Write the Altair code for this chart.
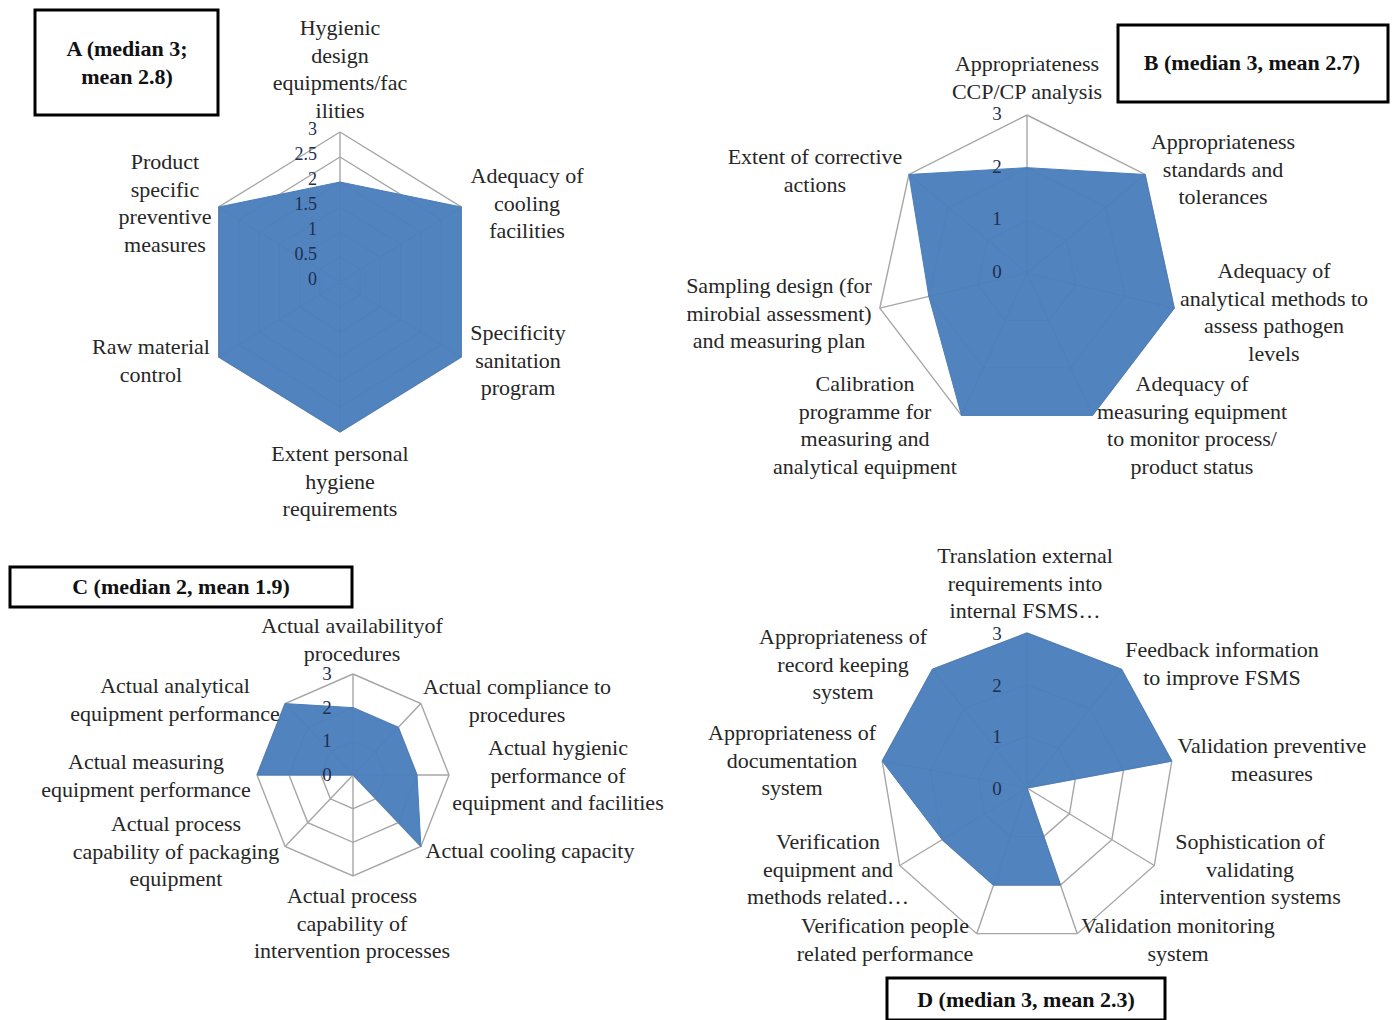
import altair as alt
import pandas as pd

# ---------------- data ----------------
A_CATS = ["Hygienic\ndesign\nequipments/fac\nilities", "Adequacy of\ncooling\nfacilities",
          "Specificity\nsanitation\nprogram", "Extent personal\nhygiene\nrequirements",
          "Raw material\ncontrol", "Product\nspecific\npreventive\nmeasures"]
A_VALS = [2, 3, 3, 3, 3, 3]
A_TICKS = [0, 0.5, 1, 1.5, 2, 2.5, 3]
A_TITLE = "A (median 3;\nmean 2.8)"

B_CATS = ["Appropriateness\nCCP/CP analysis", "Appropriateness\nstandards and\ntolerances",
          "Adequacy of\nanalytical methods to\nassess pathogen\nlevels",
          "Adequacy of\nmeasuring equipment\nto monitor process/\nproduct status",
          "Calibration\nprogramme for\nmeasuring and\nanalytical equipment",
          "Sampling design (for\nmirobial assessment)\nand measuring plan",
          "Extent of corrective\nactions"]
B_VALS = [2, 3, 3, 3, 3, 2, 3]
B_TICKS = [0, 1, 2, 3]
B_TITLE = "B (median 3, mean 2.7)"

C_CATS = ["Actual availabilityof\nprocedures", "Actual compliance to\nprocedures",
          "Actual hygienic\nperformance of\nequipment and facilities", "Actual cooling capacity",
          "Actual process\ncapability of\nintervention processes",
          "Actual process\ncapability of packaging\nequipment",
          "Actual measuring\nequipment performance", "Actual analytical\nequipment performance"]
C_VALS = [2, 2, 2, 3, 0, 0, 3, 3]
C_TICKS = [0, 1, 2, 3]
C_TITLE = "C (median 2, mean 1.9)"

D_CATS = ["Translation external\nrequirements into\ninternal FSMS…", "Feedback information\nto improve FSMS",
          "Validation preventive\nmeasures", "Sophistication of\nvalidating\nintervention systems",
          "Validation monitoring\nsystem", "Verification people\nrelated performance",
          "Verification\nequipment and\nmethods related…", "Appropriateness of\ndocumentation\nsystem",
          "Appropriateness of\nrecord keeping\nsystem"]
D_VALS = [3, 3, 3, 0, 2, 2, 2, 3, 3]
D_TICKS = [0, 1, 2, 3]
D_TITLE = "D (median 3, mean 2.3)"

# ---------------- layout (pixels; label positions = centre of first line) ----------------
W, H = 1394, 1020
LAYOUT = {
    "A": dict(cx=340, cy=282, rx=140, ry=150, tdx=-23, tdy=-2, grid=[0.5, 1, 1.5, 2, 2.5, 3],
              labels=[(340, 28), (527, 176), (518, 333), (340, 454), (151, 347), (165, 162)],
              box=(35, 10, 218, 115), tpos=(127, 49)),
    "B": dict(cx=1027, cy=273, rx=151, ry=158, tdx=-30, tdy=-1, grid=[1, 2, 3],
              labels=[(1027, 64), (1223, 142), (1274, 271), (1192, 384), (865, 384), (779, 286), (815, 157)],
              box=(1118, 25, 1388, 102), tpos=(1252, 63)),
    "C": dict(cx=353, cy=775, rx=96, ry=101, tdx=-26, tdy=0, grid=[1, 2, 3],
              labels=[(352, 626), (517, 687), (558, 748), (530, 851), (352, 896), (176, 824), (146, 762), (175, 686)],
              box=(10, 567, 352, 607), tpos=(181, 587)),
    "D": dict(cx=1027, cy=788, rx=147, ry=155, tdx=-30, tdy=1, grid=[1, 2, 3],
              labels=[(1025, 556), (1222, 650), (1272, 746), (1250, 842), (1178, 926), (885, 926),
                      (828, 842), (792, 733), (843, 637)],
              box=(887, 978, 1165, 1020), tpos=(1026, 1000)),
}
PANELS = {"A": (A_CATS, A_VALS, A_TICKS, A_TITLE), "B": (B_CATS, B_VALS, B_TICKS, B_TITLE),
          "C": (C_CATS, C_VALS, C_TICKS, C_TITLE), "D": (D_CATS, D_VALS, D_TICKS, D_TITLE)}

FILL = "#4a7ebb"
GRID = "#a6a6a6"
FONT = "Liberation Serif"

poly_rows, grid_rows, spoke_rows, tick_rows, label_rows, box_rows = [], [], [], [], [], []
for p, (cats, vals, ticks, title) in PANELS.items():
    L = LAYOUT[p]
    n = len(cats)
    geo = dict(panel=p, n=n, cx=L["cx"], cy=L["cy"], rx=L["rx"], ry=L["ry"])
    for i in range(n + 1):
        poly_rows.append(dict(geo, idx=i, value=vals[i % n]))
    for lv in L["grid"]:
        for i in range(n + 1):
            grid_rows.append(dict(geo, idx=i, value=lv, grp=f"{p}{lv}"))
    for i in range(n):
        spoke_rows.append(dict(geo, idx=i, value=3))
    for t in ticks:
        tick_rows.append(dict(geo, value=t, tdx=L["tdx"], tdy=L["tdy"], text=("%g" % t)))
    for c, (lx, ly) in zip(cats, L["labels"]):
        label_rows.append(dict(text=c, lx=lx, ly=ly))
    x1, y1, x2, y2 = L["box"]
    box_rows.append(dict(x1=x1, y1=y1, x2=x2, y2=y2, text=title, tx=L["tpos"][0], ty=L["tpos"][1]))

poly_df = pd.DataFrame(poly_rows)
grid_df = pd.DataFrame(grid_rows)
spoke_df = pd.DataFrame(spoke_rows)
tick_df = pd.DataFrame(tick_rows)
label_df = pd.DataFrame(label_rows)
box_df = pd.DataFrame(box_rows)

xs = alt.Scale(domain=[0, W], nice=False, zero=False)
ys = alt.Scale(domain=[0, H], nice=False, zero=False, reverse=True)


def polar(chart):
    return (chart.transform_calculate(ang="2*PI*datum.idx/datum.n")
            .transform_calculate(px="datum.cx + datum.rx*datum.value/3*sin(datum.ang)",
                                 py="datum.cy - datum.ry*datum.value/3*cos(datum.ang)"))


grid = polar(alt.Chart(grid_df)).mark_line(stroke=GRID, strokeWidth=1.4).encode(
    x=alt.X("px:Q", scale=xs, axis=None), y=alt.Y("py:Q", scale=ys, axis=None),
    detail="grp:N", order="idx:Q")

spokes = polar(alt.Chart(spoke_df)).mark_rule(stroke=GRID, strokeWidth=1.4).encode(
    x=alt.X("cx:Q", scale=xs, axis=None), y=alt.Y("cy:Q", scale=ys, axis=None),
    x2="px:Q", y2="py:Q")

poly = polar(alt.Chart(poly_df)).mark_line(
    fill=FILL, stroke=FILL, strokeWidth=1, fillOpacity=0.96, strokeJoin="miter").encode(
    x=alt.X("px:Q", scale=xs, axis=None), y=alt.Y("py:Q", scale=ys, axis=None),
    detail="panel:N", order="idx:Q")

tick_base = alt.Chart(tick_df).transform_calculate(
    tx="datum.cx + datum.tdx", ty="datum.cy - datum.ry*datum.value/3 + datum.tdy")
ticks_a = tick_base.transform_filter("datum.panel == 'A'").mark_text(
    align="right", baseline="middle", font=FONT, fontSize=18, color="#1f2f4f").encode(
    x=alt.X("tx:Q", scale=xs, axis=None), y=alt.Y("ty:Q", scale=ys, axis=None), text="text:N")
ticks_o = tick_base.transform_filter("datum.panel != 'A'").mark_text(
    align="center", baseline="middle", font=FONT, fontSize=19, color="#1f2f4f").encode(
    x=alt.X("tx:Q", scale=xs, axis=None), y=alt.Y("ty:Q", scale=ys, axis=None), text="text:N")

labels = alt.Chart(label_df).mark_text(
    align="center", baseline="middle", lineBreak="\n", lineHeight=27.5,
    font=FONT, fontSize=22, color="#262626").encode(
    x=alt.X("lx:Q", scale=xs, axis=None), y=alt.Y("ly:Q", scale=ys, axis=None), text="text:N")

boxes = alt.Chart(box_df).mark_rect(fill="white", stroke="black", strokeWidth=3).encode(
    x=alt.X("x1:Q", scale=xs, axis=None), x2="x2:Q",
    y=alt.Y("y1:Q", scale=ys, axis=None), y2="y2:Q")

titles = alt.Chart(box_df).mark_text(
    align="center", baseline="middle", lineBreak="\n", lineHeight=28,
    font=FONT, fontSize=22, fontWeight="bold", color="#111111").encode(
    x=alt.X("tx:Q", scale=xs, axis=None), y=alt.Y("ty:Q", scale=ys, axis=None), text="text:N")

chart = alt.layer(grid, spokes, poly, ticks_a, ticks_o, labels, boxes, titles).properties(
    width=W, height=H, padding=0, autosize=alt.AutoSizeParams(type="none"),
    background="white").configure_view(stroke=None)

chart.save("out.html", embed_options={"renderer": "svg", "actions": False})
